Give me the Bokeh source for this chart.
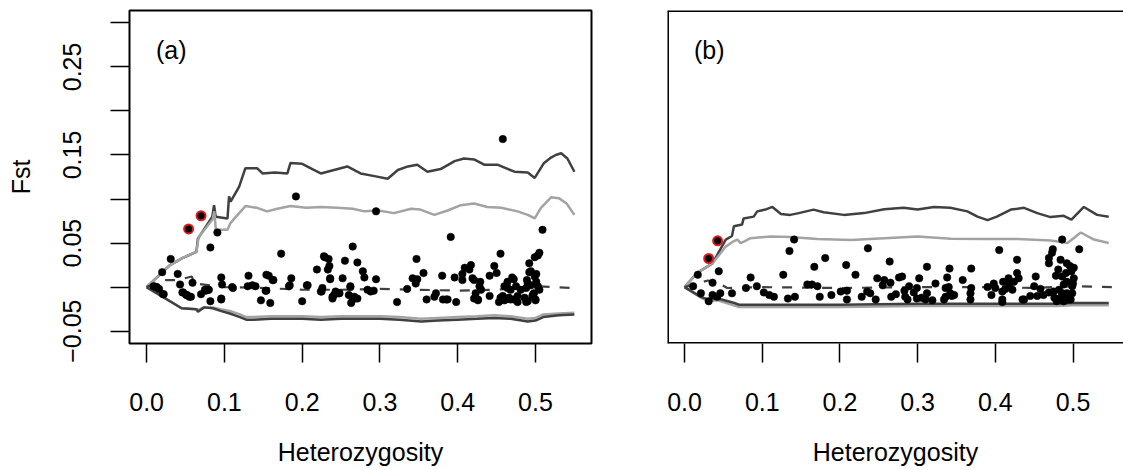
from bokeh.plotting import figure
from bokeh.models import Range1d, FixedTicker, Label, Span, PrintfTickFormatter
from bokeh.layouts import row
from bokeh.embed import file_html
from bokeh.resources import INLINE

FONT = "Liberation Sans"

# ---------------- data: panel (a) ----------------
a_upper_dark_x = [0.000, 0.030, 0.046, 0.064, 0.066, 0.0845, 0.0867, 0.0888, 0.104, 0.106, 0.108, 0.119, 0.127, 0.142, 0.149, 0.165,
                  0.181, 0.185, 0.200, 0.215, 0.224, 0.241, 0.258, 0.275, 0.293, 0.310, 0.323, 0.336, 0.348, 0.361, 0.378,
                  0.396, 0.408, 0.421, 0.434, 0.451, 0.473, 0.490, 0.499, 0.511, 0.520, 0.526, 0.533, 0.541, 0.550]
a_upper_dark_y = [0.000, 0.025, 0.033, 0.040, 0.055, 0.080, 0.093, 0.080, 0.078, 0.103, 0.097, 0.114, 0.135, 0.135, 0.129, 0.130,
                  0.129, 0.141, 0.140, 0.133, 0.129, 0.133, 0.137, 0.129, 0.126, 0.123, 0.133, 0.137, 0.139, 0.131, 0.134,
                  0.143, 0.146, 0.145, 0.139, 0.139, 0.131, 0.130, 0.124, 0.141, 0.147, 0.150, 0.152, 0.146, 0.131]

a_upper_gray_x = [0.000, 0.030, 0.046, 0.064, 0.067, 0.085, 0.087, 0.089, 0.104, 0.108, 0.127, 0.142, 0.155, 0.168, 0.185, 0.205,
                  0.224, 0.245, 0.265, 0.280, 0.298, 0.318, 0.340, 0.352, 0.370, 0.387, 0.404, 0.421, 0.438, 0.456, 0.477,
                  0.490, 0.499, 0.507, 0.520, 0.530, 0.540, 0.550]
a_upper_gray_y = [0.000, 0.025, 0.033, 0.040, 0.057, 0.077, 0.086, 0.065, 0.065, 0.073, 0.092, 0.090, 0.086, 0.089, 0.092, 0.090,
                  0.091, 0.090, 0.089, 0.086, 0.087, 0.084, 0.089, 0.088, 0.082, 0.087, 0.093, 0.095, 0.091, 0.090, 0.086,
                  0.082, 0.078, 0.090, 0.102, 0.101, 0.095, 0.082]

a_lower_x = [0.000, 0.045, 0.064, 0.066, 0.074, 0.085, 0.095, 0.107, 0.120, 0.128, 0.138, 0.160, 0.181, 0.200, 0.224,
             0.250, 0.275, 0.300, 0.325, 0.353, 0.375, 0.400, 0.425, 0.447, 0.468, 0.490, 0.500, 0.510, 0.530, 0.550]
a_lower_dark_y = [0.000, -0.024, -0.025, -0.028, -0.023, -0.024, -0.027, -0.030, -0.034, -0.037, -0.037, -0.036, -0.036,
                  -0.036, -0.037, -0.036, -0.036, -0.036, -0.037, -0.039, -0.038, -0.037, -0.036, -0.035, -0.036, -0.039,
                  -0.038, -0.034, -0.032, -0.031]
a_lower_gray_y = [0.000, -0.024, -0.025, -0.026, -0.023, -0.023, -0.025, -0.027, -0.031, -0.034, -0.034, -0.033, -0.033,
                  -0.033, -0.034, -0.033, -0.033, -0.033, -0.034, -0.036, -0.035, -0.034, -0.033, -0.032, -0.033, -0.036,
                  -0.035, -0.031, -0.030, -0.029]

a_median_x = [0.000, 0.020, 0.040, 0.058, 0.062, 0.100, 0.150, 0.200, 0.250, 0.300, 0.350, 0.400, 0.450, 0.500, 0.550]
a_median_y = [0.000, 0.008, 0.008, 0.012, 0.004, 0.000, -0.001, -0.003, -0.003, -0.002, -0.003, -0.004, -0.003, 0.001, -0.001]

a_pts_x = [0.458, 0.192, 0.295, 0.391, 0.509, 0.091, 0.082, 0.031, 0.173, 0.265, 0.455, 0.505, 0.503, 0.499, 0.229,
           0.255, 0.271, 0.347, 0.492, 0.235, 0.219, 0.417, 0.409, 0.415, 0.447, 0.356, 0.278, 0.380, 0.396, 0.441,
           0.450, 0.494, 0.499, 0.492, 0.501, 0.020, 0.040, 0.096, 0.131, 0.157, 0.162, 0.186, 0.236, 0.252, 0.280,
           0.295, 0.342, 0.421, 0.428, 0.472, 0.489, 0.501, 0.059, 0.043, 0.013, 0.009, 0.097, 0.110, 0.130, 0.136,
           0.140, 0.154, 0.183, 0.207, 0.225, 0.241, 0.248, 0.262, 0.260, 0.265, 0.263, 0.284, 0.288, 0.335, 0.346,
           0.372, 0.370, 0.381, 0.385, 0.360, 0.398, 0.423, 0.430, 0.426, 0.441, 0.455, 0.460, 0.466, 0.472, 0.477,
           0.486, 0.490, 0.496, 0.500, 0.498, 0.022, 0.046, 0.052, 0.057, 0.070, 0.076, 0.080, 0.082, 0.096, 0.147,
           0.159, 0.200, 0.239, 0.322, 0.453, 0.477, 0.488, 0.500, 0.460, 0.464, 0.468, 0.475, 0.481, 0.488, 0.464,
           0.458, 0.462, 0.470, 0.468, 0.490, 0.494, 0.497, 0.503, 0.505, 0.406, 0.406, 0.419, 0.429, 0.421, 0.426,
           0.348, 0.387, 0.228, 0.233, 0.236, 0.262, 0.267, 0.271, 0.243, 0.239, 0.247, 0.292, 0.224, 0.012, 0.016,
           0.021, 0.047, 0.051, 0.055, 0.075, 0.079, 0.111, 0.096, 0.154, 0.163, 0.153, 0.184, 0.206, 0.226, 0.234]
a_pts_y = [0.168, 0.103, 0.086, 0.057, 0.065, 0.062, 0.045, 0.032, 0.038, 0.046, 0.038, 0.039, 0.036, 0.034, 0.034,
           0.030, 0.028, 0.032, 0.027, 0.024, 0.020, 0.025, 0.022, 0.020, 0.024, 0.016, 0.018, 0.013, 0.011, 0.013,
           0.016, 0.018, 0.012, 0.017, 0.015, 0.017, 0.015, 0.011, 0.013, 0.013, 0.008, 0.010, 0.010, 0.010, 0.011,
           0.009, 0.010, 0.008, 0.001, 0.009, 0.008, 0.006, 0.005, 0.003, 0.000, 0.001, 0.003, 0.000, 0.001, 0.002,
           0.001, -0.004, 0.001, 0.002, -0.005, -0.009, -0.007, 0.000, -0.009, -0.014, -0.018, -0.003, -0.005, -0.002, 0.004,
           -0.007, -0.011, -0.014, -0.014, -0.014, -0.017, -0.007, -0.003, -0.014, -0.010, -0.012, -0.015, -0.012, -0.014, -0.010,
           -0.012, -0.016, -0.010, -0.014, -0.007, -0.008, -0.006, -0.009, -0.011, -0.008, -0.004, -0.003, -0.016, -0.014, -0.015,
           -0.018, -0.016, -0.011, -0.017, -0.017, -0.017, -0.017, -0.015, 0.001, -0.001, -0.003, 0.001, -0.003, -0.001, 0.006,
           -0.010, -0.014, 0.011, -0.014, 0.004, 0.002, -0.008, 0.001, -0.003, 0.015, 0.008, 0.010, 0.006, -0.013, -0.015,
           0.009, -0.014, 0.035, 0.020, 0.009, 0.001, -0.011, -0.013, -0.005, -0.013, -0.007, -0.004, -0.005, 0.000, -0.002,
           -0.008, -0.006, -0.009, -0.011, -0.003, -0.003, -0.001, -0.013, 0.014, 0.008, -0.004, 0.002, 0.002, -0.001, 0.032]

a_out_x = [0.054, 0.070]
a_out_y = [0.066, 0.081]

# ---------------- data: panel (b) ----------------
b_upper_dark_x = [0.000, 0.016, 0.036, 0.053, 0.061, 0.0635, 0.074, 0.076, 0.089, 0.0935, 0.104, 0.113, 0.124, 0.136, 0.147,
                  0.166, 0.179, 0.205, 0.231, 0.257, 0.282, 0.300, 0.321, 0.342, 0.364, 0.377, 0.390, 0.402, 0.420,
                  0.437, 0.454, 0.471, 0.488, 0.498, 0.514, 0.531, 0.546]
b_upper_dark_y = [0.000, 0.016, 0.027, 0.054, 0.058, 0.069, 0.071, 0.078, 0.080, 0.086, 0.088, 0.091, 0.083, 0.082, 0.084,
                  0.088, 0.085, 0.082, 0.084, 0.0885, 0.090, 0.088, 0.091, 0.090, 0.086, 0.080, 0.076, 0.080, 0.088,
                  0.090, 0.084, 0.0795, 0.081, 0.0765, 0.091, 0.082, 0.080]

b_upper_gray_x = [0.000, 0.016, 0.036, 0.053, 0.063, 0.068, 0.072, 0.077, 0.085, 0.111, 0.136, 0.171, 0.214, 0.257, 0.300,
                  0.343, 0.386, 0.429, 0.471, 0.493, 0.510, 0.527, 0.546]
b_upper_gray_y = [0.000, 0.016, 0.027, 0.046, 0.052, 0.054, 0.050, 0.052, 0.0556, 0.0575, 0.057, 0.0545, 0.0535, 0.0555, 0.0575,
                  0.055, 0.0545, 0.0545, 0.053, 0.050, 0.062, 0.054, 0.050]

b_lower_x = [0.000, 0.021, 0.030, 0.043, 0.064, 0.070, 0.110, 0.200, 0.300, 0.380, 0.430, 0.480, 0.500, 0.546]
b_lower_dark_y = [0.000, -0.011, -0.014, -0.013, -0.018, -0.020, -0.020, -0.020, -0.019, -0.019, -0.019, -0.019, -0.018, -0.018]
b_lower_gray_y = [0.000, -0.012, -0.016, -0.015, -0.021, -0.0225, -0.0225, -0.0225, -0.0215, -0.0215, -0.0215, -0.0215,
                  -0.0205, -0.0205]

b_median_x = [0.000, 0.020, 0.030, 0.045, 0.055, 0.100, 0.200, 0.300, 0.400, 0.450, 0.500, 0.550]
b_median_y = [0.000, 0.005, 0.0075, 0.004, -0.001, 0.000, -0.001, 0.000, 0.000, -0.001, 0.001, 0.000]

b_pts_x = [0.141, 0.135, 0.236, 0.405, 0.486, 0.474, 0.508, 0.181, 0.167, 0.208, 0.264, 0.312, 0.341, 0.369, 0.428,
           0.469, 0.473, 0.484, 0.469, 0.492, 0.501, 0.498, 0.044, 0.017, 0.127, 0.085, 0.220, 0.248, 0.257, 0.265,
           0.276, 0.280, 0.302, 0.289, 0.299, 0.295, 0.312, 0.323, 0.338, 0.336, 0.342, 0.347, 0.358, 0.369, 0.368,
           0.368, 0.417, 0.428, 0.430, 0.424, 0.422, 0.452, 0.450, 0.458, 0.398, 0.400, 0.409, 0.409, 0.437, 0.445,
           0.454, 0.462, 0.469, 0.475, 0.482, 0.486, 0.488, 0.492, 0.499, 0.497, 0.488, 0.492, 0.486, 0.501, 0.488,
           0.499, 0.495, 0.484, 0.011, 0.021, 0.031, 0.036, 0.042, 0.046, 0.036, 0.061, 0.079, 0.093, 0.102, 0.109,
           0.115, 0.133, 0.142, 0.158, 0.164, 0.171, 0.174, 0.189, 0.201, 0.209, 0.209, 0.228, 0.235, 0.239, 0.246,
           0.255, 0.284, 0.287, 0.299, 0.310, 0.336, 0.344, 0.409, 0.435, 0.479, 0.476, 0.490, 0.494, 0.491, 0.481,
           0.478, 0.496, 0.500, 0.283, 0.272, 0.266, 0.305, 0.319, 0.334, 0.340, 0.410, 0.418, 0.413, 0.390, 0.395]
b_pts_y = [0.054, 0.041, 0.044, 0.042, 0.054, 0.043, 0.043, 0.033, 0.023, 0.025, 0.029, 0.023, 0.021, 0.021, 0.031,
           0.033, 0.039, 0.031, 0.027, 0.027, 0.022, 0.018, 0.018, 0.014, 0.014, 0.011, 0.014, 0.010, 0.008, 0.005,
           0.011, 0.012, 0.010, 0.001, -0.001, -0.006, -0.007, 0.004, 0.011, -0.001, -0.007, -0.009, 0.008, -0.001, -0.007,
           -0.014, 0.010, 0.016, 0.010, 0.006, -0.003, 0.012, 0.001, -0.002, 0.004, -0.001, -0.005, -0.014, -0.014, -0.010,
           -0.010, -0.009, -0.006, -0.005, -0.003, -0.007, -0.011, -0.007, -0.007, -0.014, -0.016, 0.006, 0.012, 0.010, 0.003,
           0.001, -0.014, -0.012, 0.001, -0.007, -0.016, -0.009, -0.011, -0.007, 0.005, -0.007, -0.001, 0.001, -0.006, -0.009,
           -0.011, -0.013, -0.011, 0.003, 0.003, 0.001, -0.011, -0.009, -0.005, -0.004, -0.014, -0.011, -0.005, -0.007, -0.014,
           0.002, -0.011, -0.014, -0.013, -0.014, -0.011, -0.010, -0.017, -0.014, -0.016, -0.012, -0.015, -0.010, 0.016, 0.020,
           0.013, 0.024, 0.004, -0.004, -0.008, -0.011, -0.012, -0.015, -0.014, 0.000, 0.006, 0.003, -0.002, 0.000, -0.009]

b_out_x = [0.031, 0.0425]
b_out_y = [0.0325, 0.0526]

x_ticks = [0.0, 0.1, 0.2, 0.3, 0.4, 0.5]
y_label_ticks = [-0.05, 0.05, 0.15, 0.25]
y_minor_ticks = [0.0, 0.10, 0.20, 0.30]

DARK = "#404040"
GRAY = "#a3a3a3"
RED = "#e31a1c"
X_RANGE_A = (-0.022, 0.572)
X_RANGE_B = (-0.022, 0.565)
Y_RANGE = (-0.064, 0.314)


def style_x_axis(p):
    ax = p.xaxis[0]
    ax.ticker = FixedTicker(ticks=x_ticks, minor_ticks=[])
    ax.formatter = PrintfTickFormatter(format="%.1f")
    ax.axis_line_color = None
    ax.major_tick_out = 19
    ax.major_tick_in = 0
    ax.major_tick_line_width = 1.5
    ax.major_tick_line_color = "black"
    ax.major_label_standoff = 30
    ax.major_label_text_font = FONT
    ax.major_label_text_font_size = "25px"
    ax.major_label_text_color = "black"
    ax.axis_label = "Heterozygosity"
    ax.axis_label_text_font = FONT
    ax.axis_label_text_font_size = "25px"
    ax.axis_label_text_font_style = "normal"
    ax.axis_label_text_color = "black"
    ax.axis_label_standoff = 24


def draw_panel(p, ud_x, ud_y, ug_x, ug_y, lo_x, ld_y, lg_y, med_x, med_y, px, py, ox, oy, tag):
    p.line(ud_x, ud_y, line_color=DARK, line_width=2.5)
    p.line(ug_x, ug_y, line_color=GRAY, line_width=2.5)
    p.line(lo_x, lg_y, line_color=GRAY, line_width=2.5)
    p.line(lo_x, ld_y, line_color=DARK, line_width=2.5)
    p.line(med_x, med_y, line_color=DARK, line_width=2.2, line_dash="10 10")
    p.scatter(px, py, size=7.5, fill_color="black", line_color="black", line_width=0.5)
    p.scatter(ox, oy, size=9, fill_color="black", line_color=RED, line_width=2)
    p.add_layout(Label(x=0.012, y=0.269, text=tag, text_font=FONT, text_font_size="25px",
                       text_baseline="middle", text_color="black"))


common = dict(height=470, toolbar_location=None, output_backend="svg",
              min_border_top=10, min_border_bottom=127,
              background_fill_color="white", border_fill_color="white")

pa = figure(width=600, x_range=Range1d(*X_RANGE_A), y_range=Range1d(*Y_RANGE),
            min_border_left=129, min_border_right=9, **common)
pa.grid.visible = False
pa.outline_line_color = "black"
pa.outline_line_width = 2
style_x_axis(pa)
ay = pa.yaxis[0]
ay.ticker = FixedTicker(ticks=y_label_ticks, minor_ticks=y_minor_ticks)
ay.major_label_overrides = {-0.05: "\u22120.05", 0.05: "0.05", 0.15: "0.15", 0.25: "0.25"}
ay.axis_line_color = None
ay.major_tick_out = 19
ay.major_tick_in = 0
ay.minor_tick_out = 19
ay.minor_tick_in = 0
ay.major_tick_line_width = 1.5
ay.minor_tick_line_width = 1.5
ay.major_tick_line_color = "black"
ay.minor_tick_line_color = "black"
ay.major_label_orientation = "vertical"
ay.major_label_standoff = 29
ay.major_label_text_font = FONT
ay.major_label_text_font_size = "25px"
ay.major_label_text_color = "black"
ay.axis_label = "Fst"
ay.axis_label_text_font = FONT
ay.axis_label_text_font_size = "25px"
ay.axis_label_text_font_style = "normal"
ay.axis_label_text_color = "black"
ay.axis_label_standoff = 26
draw_panel(pa, a_upper_dark_x, a_upper_dark_y, a_upper_gray_x, a_upper_gray_y, a_lower_x, a_lower_dark_y,
           a_lower_gray_y, a_median_x, a_median_y, a_pts_x, a_pts_y, a_out_x, a_out_y, "(a)")

pb = figure(width=523, x_range=Range1d(*X_RANGE_B), y_range=Range1d(*Y_RANGE),
            min_border_left=67, min_border_right=0, y_axis_location=None, **common)
pb.grid.visible = False
pb.outline_line_color = None
style_x_axis(pb)
pb.add_layout(Span(location=Y_RANGE[1], dimension="width", line_color="black", line_width=3))
pb.add_layout(Span(location=Y_RANGE[0], dimension="width", line_color="black", line_width=3))
pb.add_layout(Span(location=X_RANGE_B[0], dimension="height", line_color="black", line_width=3))
draw_panel(pb, b_upper_dark_x, b_upper_dark_y, b_upper_gray_x, b_upper_gray_y, b_lower_x, b_lower_dark_y,
           b_lower_gray_y, b_median_x, b_median_y, b_pts_x, b_pts_y, b_out_x, b_out_y, "(b)")

layout = row(pa, pb)
open("out.html", "w").write(file_html(layout, INLINE))
